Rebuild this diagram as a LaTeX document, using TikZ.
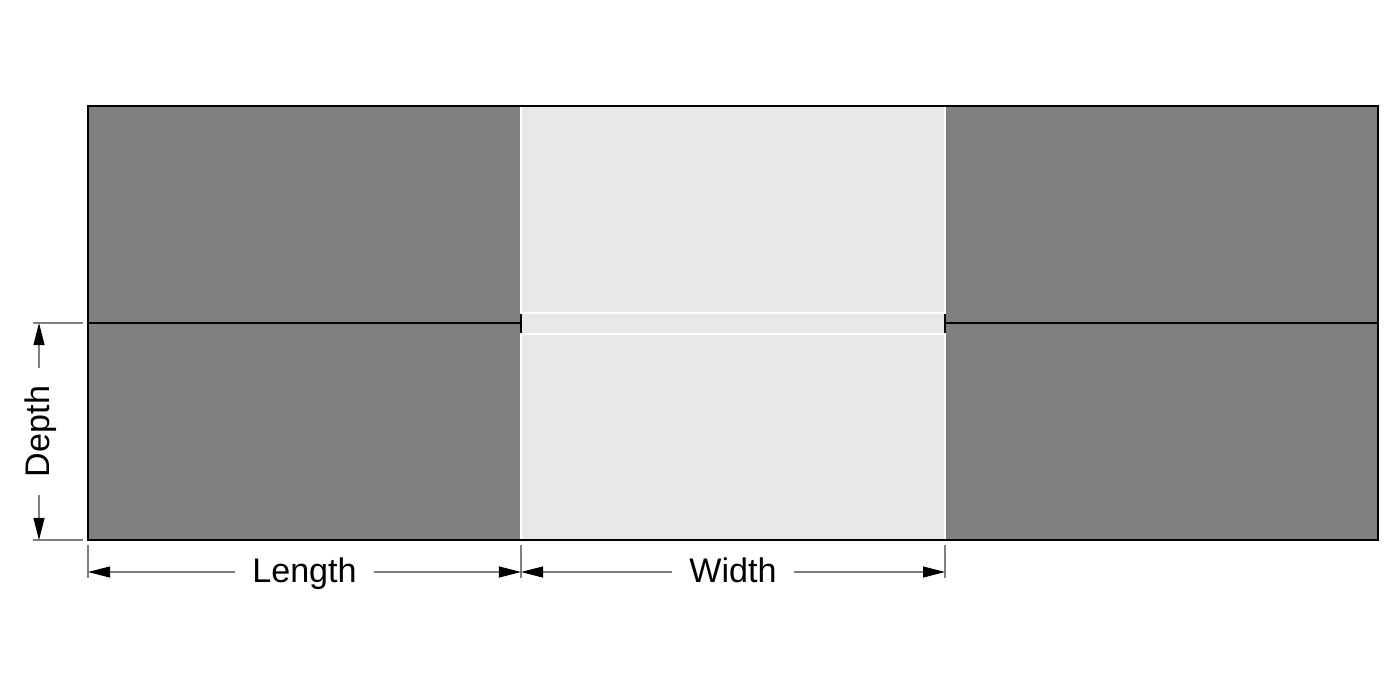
\documentclass[tikz,border=0pt]{standalone}
\usepackage{fontspec}
\setmainfont{Liberation Sans}
\usepackage{xcolor}
\usetikzlibrary{arrows.meta,positioning}
\definecolor{darkshade}{HTML}{808080}
\definecolor{lightshade}{HTML}{E8E8E8}
\tikzset{
	dimtip/.tip={Triangle[length=0.22cm,width=0.11cm,color=black]}
}
\tikzstyle{dimline}=[draw=darkshade, line width=0.3pt, dimtip-dimtip]
\tikzstyle{extline}=[draw=darkshade, line width=0.3pt]
\tikzstyle{dimlabel}=[fill=white, inner xsep=5pt, inner ysep=1pt, text height=1.6ex, text depth=0.45ex, font=\fontsize{9.7}{12}\selectfont]

\begin{document}
\begin{tikzpicture}[x=0.01cm, y=-0.01cm]
	\useasboundingbox (0,0) rectangle (1400,700);
	% blocks
	\fill[darkshade] (88,106) rectangle (521,540);
	\fill[lightshade] (521,106) rectangle (945,540);
	\fill[darkshade] (945,106) rectangle (1378,540);
	\draw[white, line width=0.75pt] (521,106) -- (521,540);
	\draw[white, line width=0.75pt] (945,106) -- (945,540);
	\draw[white, line width=0.6pt] (521,313) -- (945,313);
	\draw[white, line width=0.6pt] (521,334) -- (945,334);
	\draw[line width=0.4pt] (88,323) -- (521,323);
	\draw[line width=0.4pt] (945,323) -- (1378,323);
	\draw[line width=0.7pt] (521,314) -- (521,333);
	\draw[line width=0.7pt] (945,314) -- (945,333);
	\draw[line width=0.45pt] (88,106) rectangle (1378,540);
	% extension lines
	\coordinate (depthtop) at (39,323);
	\coordinate (depthbot) at (39,540);
	\coordinate (lenleft) at (88,572);
	\coordinate (lenright) at (521,572);
	\coordinate (widright) at (945,572);
	\draw[extline] (33,323) -- (83,323);
	\draw[extline] (33,540) -- (83,540);
	\foreach \x in {88,521,945}
		\draw[extline] (\x,545) -- (\x,578);
	% dimensions
	\draw[dimline] (depthbot) -- node[dimlabel, rotate=90] {Depth} (depthtop);
	\draw[dimline] (lenleft) -- node[dimlabel] {Length} (lenright);
	\draw[dimline] (lenright) -- node[dimlabel] {Width} (widright);
\end{tikzpicture}
\end{document}
